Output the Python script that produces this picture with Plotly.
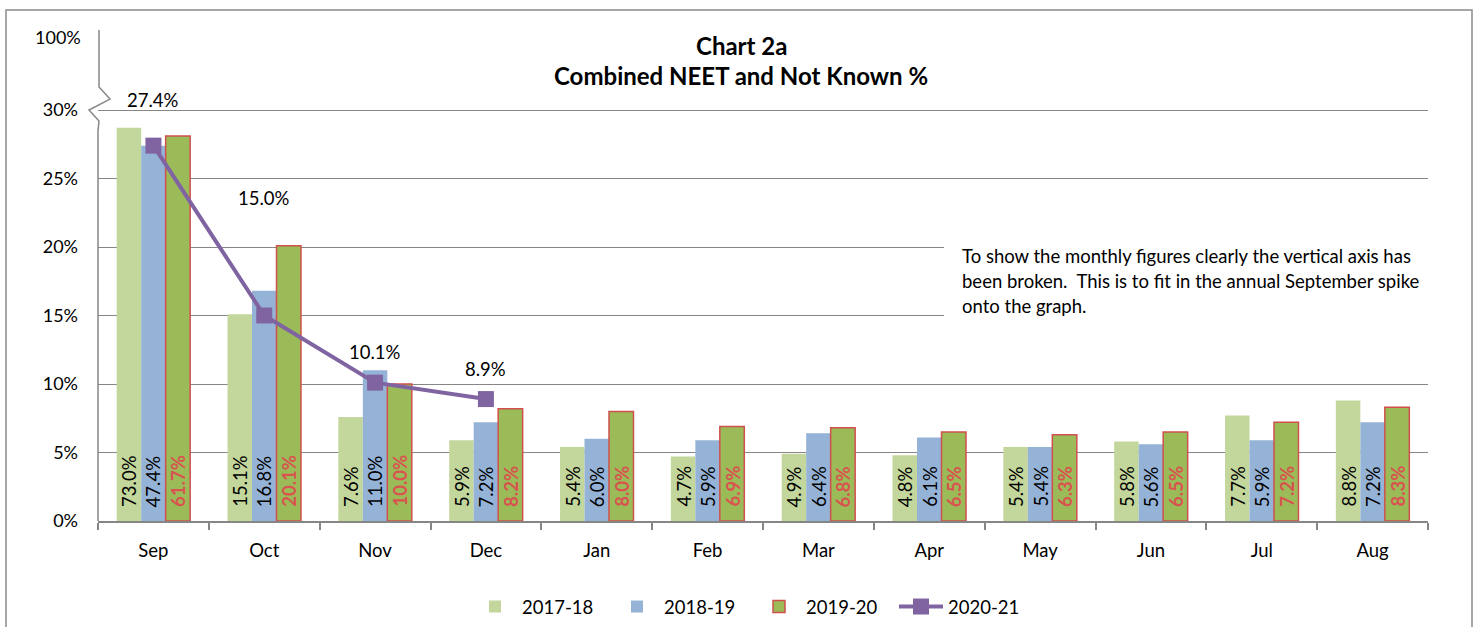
import plotly.graph_objects as go

# ---------------- data ----------------
months = ["Sep", "Oct", "Nov", "Dec", "Jan", "Feb", "Mar", "Apr", "May", "Jun", "Jul", "Aug"]
series_names = ["2017-18", "2018-19", "2019-20", "2020-21"]

# actual values (%) shown in the data labels
v_2017_18 = [73.0, 15.1, 7.6, 5.9, 5.4, 4.7, 4.9, 4.8, 5.4, 5.8, 7.7, 8.8]
v_2018_19 = [47.4, 16.8, 11.0, 7.2, 6.0, 5.9, 6.4, 6.1, 5.4, 5.6, 5.9, 7.2]
v_2019_20 = [61.7, 20.1, 10.0, 8.2, 8.0, 6.9, 6.8, 6.5, 6.3, 6.5, 7.2, 8.3]
v_2020_21 = [27.4, 15.0, 10.1, 8.9, None, None, None, None, None, None, None, None]

# September bars are drawn on the broken part of the axis (heights as drawn)
sep_drawn = [28.7, 27.4, 28.1]

y_tick_vals = [0, 5, 10, 15, 20, 25, 30]
y_tick_text = ["0%", "5%", "10%", "15%", "20%", "25%", "30%"]
break_label = "100%"
break_label_pos = 35.33
y_top = 35.84

title_lines = ["Chart 2a", "Combined NEET and Not Known %"]
note_lines = [
    "To show the monthly figures clearly the vertical axis has",
    "been broken.  This is to fit in the annual September spike",
    "onto the graph.",
]

# ---------------- geometry / style ----------------
W, H = 1480, 627
PL, PR, PT, PB = 98, 1428, 30, 521
PW, PH = PR - PL, PB - PT
FONT = "Lato, 'Open Sans', sans-serif"
GRID = "#868686"
C1718 = "#C3D69B"
C1819 = "#95B3D7"
C1920 = "#9BBB59"
C1920_LINE = "#D0504D"
LABEL_RED = "#D9534F"
PURPLE = "#8064A2"


def px_x(px):
    return (px - PL) / PW


def px_y(py):
    return (PB - py) / PH


def drawn(vals, sep_h):
    return [sep_h] + vals[1:]


h_2017_18 = drawn(v_2017_18, sep_drawn[0])
h_2018_19 = drawn(v_2018_19, sep_drawn[1])
h_2019_20 = drawn(v_2019_20, sep_drawn[2])

fig = go.Figure()
fig.add_bar(x=months, y=h_2017_18, name=series_names[0], marker=dict(color=C1718, line=dict(width=0)))
fig.add_bar(x=months, y=h_2018_19, name=series_names[1], marker=dict(color=C1819, line=dict(width=0)))
fig.add_bar(x=months, y=h_2019_20, name=series_names[2],
            marker=dict(color=C1920, line=dict(color=C1920_LINE, width=1.5)))
fig.add_scatter(x=months, y=v_2020_21, name=series_names[3], mode="lines+markers",
                line=dict(color=PURPLE, width=4),
                marker=dict(symbol="square", size=16, color=PURPLE))

annotations = []
# bar data labels, rotated, sitting at the base of each bar
bar_offsets = [-24.5, 0, 24.5]
label_sets = [
    (v_2017_18, "black", False),
    (v_2018_19, "black", False),
    (v_2019_20, LABEL_RED, True),
]
for (vals, col, bold), off in zip(label_sets, bar_offsets):
    for m, v in zip(months, vals):
        txt = f"{v:.1f}%"
        if bold:
            txt = f"<b>{txt}</b>"
        annotations.append(dict(
            x=m, y=0, xref="x", yref="y", text=txt, showarrow=False,
            textangle=-90, xanchor="center", yanchor="bottom",
            xshift=off, yshift=12, font=dict(family=FONT, size=18.5, color=col)))

# line labels
line_label_shift = [46, 118, 31, 30]
for m, v, s in zip(months, v_2020_21, line_label_shift):
    if v is None:
        continue
    annotations.append(dict(
        x=m, y=v, xref="x", yref="y", text=f"{v:.1f}%", showarrow=False,
        xanchor="center", yanchor="middle", yshift=s,
        font=dict(family=FONT, size=18.5, color="black")))

# broken axis top label
annotations.append(dict(
    x=0, y=break_label_pos, xref="paper", yref="y", text=break_label, showarrow=False,
    xanchor="right", yanchor="middle", xshift=-15,
    font=dict(family=FONT, size=18, color="black")))

# title
for t, py in zip(title_lines, [45, 75]):
    annotations.append(dict(
        x=px_x(741), y=px_y(py), xref="paper", yref="paper", text=f"<b>{t}</b>",
        showarrow=False, xanchor="center", yanchor="middle",
        font=dict(family=FONT, size=24, color="black")))

# note text
for t, py in zip(note_lines, [256, 281, 306]):
    annotations.append(dict(
        x=px_x(960), y=px_y(py), xref="paper", yref="paper", text=t,
        showarrow=False, xanchor="left", yanchor="middle",
        font=dict(family=FONT, size=18.5, color="black")))

shapes = [
    # outer chart border
    dict(type="rect", xref="paper", yref="paper",
         x0=px_x(6), x1=px_x(1472), y0=px_y(645), y1=px_y(10),
         line=dict(color="#8a8a8a", width=1.5), fillcolor="rgba(0,0,0,0)", layer="below"),
    # white box behind the note
    dict(type="rect", xref="paper", yref="paper",
         x0=px_x(944), x1=px_x(1440), y0=px_y(326), y1=px_y(238),
         line=dict(width=0), fillcolor="white", layer="above"),
    # vertical axis with break zig-zag
    dict(type="path", xref="paper", yref="y",
         path=(f"M {px_x(99)},{y_top} L {px_x(99)},31.68 L {px_x(110)},30.8 "
               f"L {px_x(89)},30.0 L {px_x(99)},29.2 L {px_x(98)},28.5 L {px_x(98)},0"),
         line=dict(color=GRID, width=1.5), layer="above"),
]

fig.update_layout(
    width=W, height=H,
    margin=dict(l=PL, r=W - PR, t=PT, b=H - PB, pad=0, autoexpand=False),
    paper_bgcolor="white", plot_bgcolor="white",
    font=dict(family=FONT, size=18, color="black"),
    barmode="group", bargap=0.337, bargroupgap=0,
    showlegend=True,
    legend=dict(orientation="h", x=px_x(752), xanchor="center", y=px_y(607), yanchor="middle",
                font=dict(family=FONT, size=18.5, color="black"), itemwidth=44,
                entrywidth=83, bgcolor="rgba(0,0,0,0)"),
    annotations=annotations,
    shapes=shapes,
)
fig.update_xaxes(type="category", range=[-0.5, 11.5], autorange=False,
                 showline=True, linecolor=GRID, linewidth=1.5,
                 ticks="outside", tickson="boundaries", ticklen=7, tickcolor=GRID, tickwidth=1.5,
                 showgrid=False, ticklabelstandoff=12,
                 tickfont=dict(family=FONT, size=18.5, color="black"))
fig.update_yaxes(range=[0, y_top], autorange=False, tickvals=y_tick_vals, ticktext=y_tick_text,
                 showgrid=True, gridcolor=GRID, gridwidth=1.2, zeroline=False,
                 showline=False, ticks="", ticklabelstandoff=19,
                 tickfont=dict(family=FONT, size=18, color="black"))

fig.write_html("out.html", config={"displayModeBar": False},
               post_script="document.body.style.margin='0px';")
